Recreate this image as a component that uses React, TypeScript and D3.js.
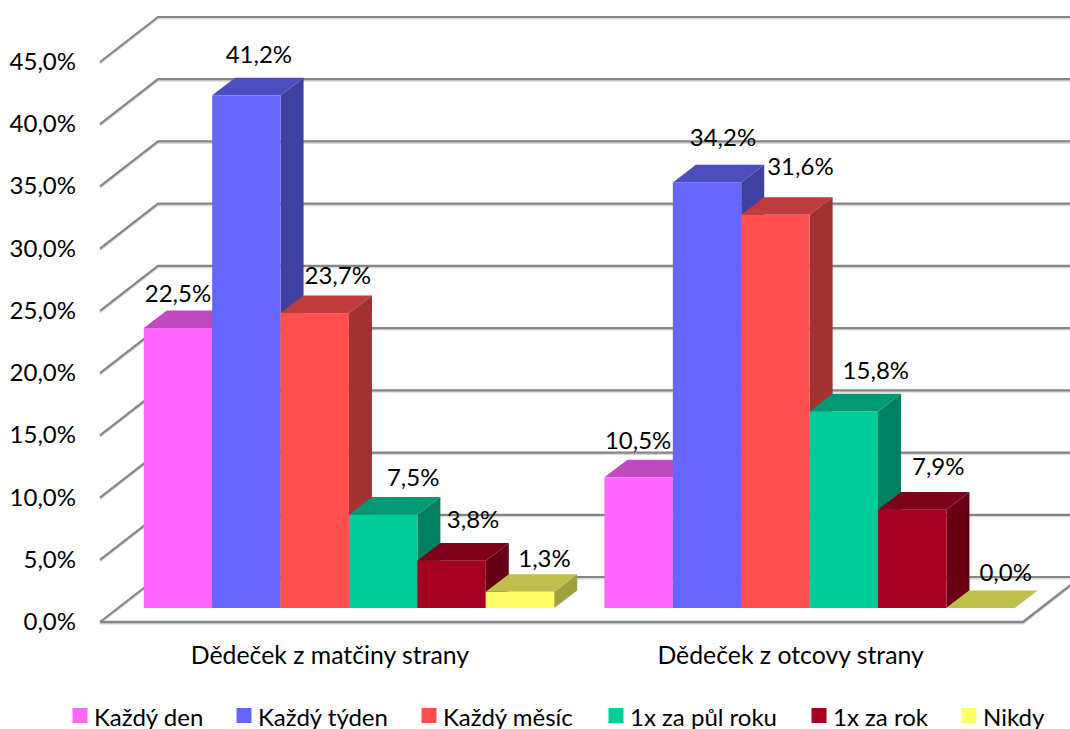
import React from "react";
import * as d3 from "d3";

const categories = ["Dědeček z matčiny strany", "Dědeček z otcovy strany"];
const seriesNames = ["Každý den", "Každý týden", "Každý měsíc", "1x za půl roku", "1x za rok", "Nikdy"];
const maternal = [22.5, 41.2, 23.7, 7.5, 3.8, 1.3];
const paternal = [10.5, 34.2, 31.6, 15.8, 7.9, 0.0];
const groupValues = [maternal, paternal];
const frontColors = ["#FF66FF", "#6666FF", "#FF5050", "#00CC99", "#A50021", "#FFFF66"];
const topColors = ["#BF4CBF", "#4D4DBF", "#BF3C3C", "#009973", "#7C0019", "#BFBF4C"];
const sideColors = ["#A040A0", "#4040A0", "#A03232", "#008060", "#670015", "#A0A040"];
const yTicks = [0, 5, 10, 15, 20, 25, 30, 35, 40, 45];
const labelNudgeX = [[0, 12.5, 23, 30, 21.5, 24.5], [-0.5, 16, 25, 32, 26, 25]];
const labelNudgeY = [[-36, -42, -39, -38, -42, -34], [-38, -46, -49, -42, -44, -37]];
const legendTextX = [94, 258, 443, 630, 833, 983];

const FONT = "Lato, Carlito, 'Open Sans', sans-serif";
const W = 1070, H = 729;
const GRID = "#868686";
const wallDx = 58, wallDy = 45;
const barDx = 23, barDy = 17.6;

const yFront = d3.scaleLinear().domain([0, 45]).range([622, 62]);
const yBar = d3.scaleLinear().domain([0, 45]).range([608, 48]);
const xGroup = d3.scaleBand<string>().domain(categories).range([118.6, 1040]).paddingInner(0.109).paddingOuter(0.0546);
const xBar = d3.scaleBand<string>().domain(seriesNames).range([0, xGroup.bandwidth()]);
const fmt = (v: number) => v.toFixed(1).replace(".", ",") + "%";
const pts = (p: number[][]) => p.map((q) => q.join(",")).join(" ");

export default function App() {
  const left = 100;
  const frontRight = 1023;
  const y0 = yFront(0);
  return (
    <svg width={W} height={H} style={{ position: "absolute", left: 0, top: 0, background: "#fff" }} fontFamily={FONT}>
      {/* grid */}
      {yTicks.map((t) => {
        const y = yFront(t);
        return (
          <g key={t}>
            <polyline points={pts([[left, y], [left + wallDx, y - wallDy], [W, y - wallDy]])}
              fill="none" stroke="#d9d9d9" strokeWidth={2} transform="translate(0,1.5)" />
            <polyline points={pts([[left, y], [left + wallDx, y - wallDy], [W, y - wallDy]])}
              fill="none" stroke={GRID} strokeWidth={2.2} />
            <text x={76} y={y - 1.5} textAnchor="end" dominantBaseline="central" fontSize={24} fill="#000">{fmt(t)}</text>
          </g>
        );
      })}
      {/* floor */}
      <polyline points={pts([[left, y0], [frontRight, y0], [frontRight + wallDx, y0 - wallDy]])}
        fill="none" stroke="#d9d9d9" strokeWidth={2} transform="translate(0,1.5)" />
      <polyline points={pts([[left, y0], [frontRight, y0], [frontRight + wallDx, y0 - wallDy]])}
        fill="none" stroke={GRID} strokeWidth={2.4} />
      {/* bars */}
      {categories.map((c, gi) => (
        <g key={c}>
          {groupValues[gi].map((v, i) => {
            const x0 = xGroup(c)! + xBar(seriesNames[i])!;
            const x1 = x0 + xBar.bandwidth();
            const yT = yBar(v);
            const yB = yBar(0);
            return (
              <g key={i}>
                <polygon points={pts([[x1, yT], [x1 + barDx, yT - barDy], [x1 + barDx, yB - barDy], [x1, yB]])} fill={sideColors[i]} />
                <polygon points={pts([[x0, yT], [x0 + barDx, yT - barDy], [x1 + barDx, yT - barDy], [x1, yT]])} fill={topColors[i]} />
                <rect x={x0} y={yT} width={x1 - x0} height={yB - yT} fill={frontColors[i]} />
              </g>
            );
          })}
        </g>
      ))}
      {/* labels */}
      {categories.map((c, gi) =>
        groupValues[gi].map((v, i) => {
          const x = xGroup(c)! + xBar(seriesNames[i])! + xBar.bandwidth() / 2;
          return (
            <text key={c + i} x={x + labelNudgeX[gi][i]} y={yBar(v) + labelNudgeY[gi][i]} textAnchor="middle"
              dominantBaseline="central" fontSize={24} fill="#000">{fmt(v)}</text>
          );
        })
      )}
      {/* category axis */}
      {categories.map((c) => (
        <text key={c} x={xGroup(c)! + xGroup.bandwidth() / 2 - 19} y={654} textAnchor="middle" dominantBaseline="central" fontSize={24.8} fill="#000">{c}</text>
      ))}
      {/* legend */}
      {seriesNames.map((s, i) => (
        <g key={s}>
          <rect x={legendTextX[i] - 21.5} y={708} width={15} height={15} fill={frontColors[i]} />
          <text x={legendTextX[i]} y={716} dominantBaseline="central" fontSize={24} fill="#000">{s}</text>
        </g>
      ))}
    </svg>
  );
}
